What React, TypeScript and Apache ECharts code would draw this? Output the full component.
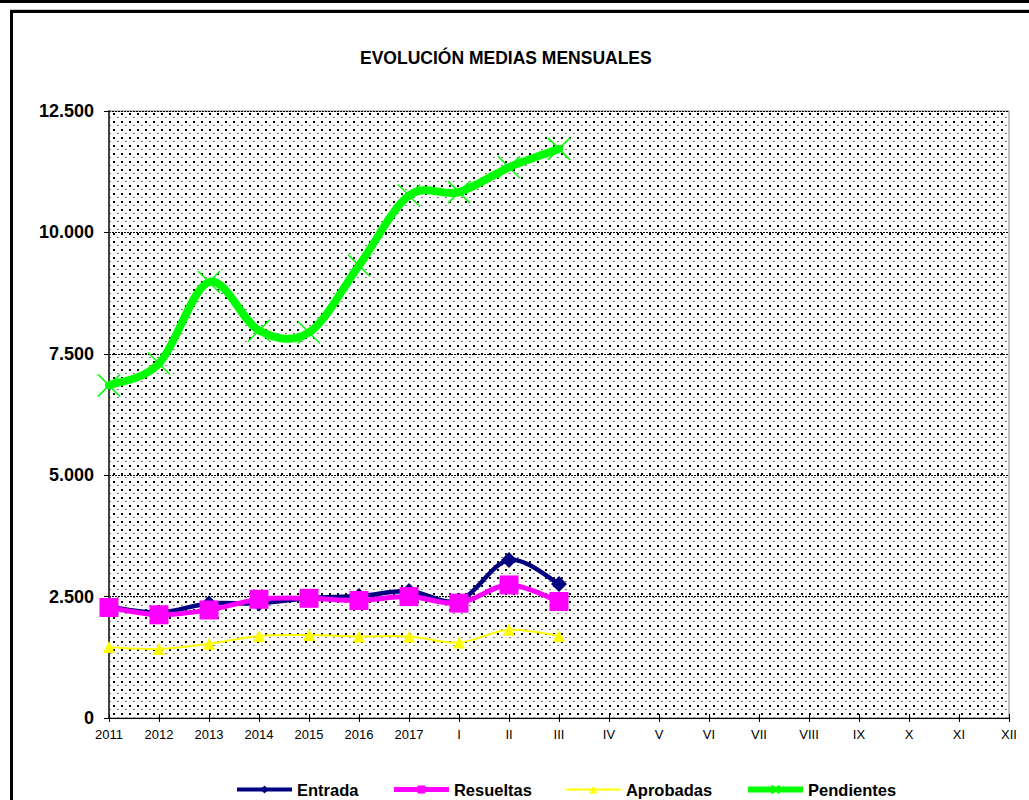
import React, { useEffect, useRef } from 'react';
import * as echarts from 'echarts';

const categories = ['2011', '2012', '2013', '2014', '2015', '2016', '2017', 'I', 'II', 'III', 'IV', 'V', 'VI', 'VII', 'VIII', 'IX', 'X', 'XI', 'XII'];
const entrada = [2290, 2170, 2360, 2360, 2470, 2510, 2615, 2420, 3255, 2760];
const resueltas = [2275, 2125, 2225, 2445, 2465, 2420, 2500, 2365, 2740, 2400];
const aprobadas = [1460, 1420, 1530, 1690, 1710, 1680, 1680, 1555, 1815, 1690];
const pendientes = [6850, 7300, 8980, 7980, 7940, 9320, 10760, 10830, 11340, 11720];
const yMin = 0;
const yMax = 12500;
const yInterval = 2500;

const FONT = '"Liberation Sans", Arial, sans-serif';

function fmt(v: number): string {
  return String(v).replace(/\B(?=(\d{3})+(?!\d))/g, '.');
}

function makePattern() {
  const c = document.createElement('canvas');
  c.width = 8;
  c.height = 8;
  const ctx = c.getContext('2d')!;
  ctx.fillStyle = '#ffffff';
  ctx.fillRect(0, 0, 8, 8);
  ctx.fillStyle = '#000000';
  ctx.fillRect(1, 1, 2, 2);
  ctx.fillStyle = '#777777';
  ctx.fillRect(5, 5, 2, 1);
  return { image: c.toDataURL(), repeat: 'repeat', imageWidth: 8, imageHeight: 8 };
}

// Excel-like smoothed curve (Catmull-Rom), positioned through the chart's scales
function curveSeries(name: string, values: number[], color: string, width: number, z: number) {
  return {
    name: name + ' curva',
    type: 'custom',
    z,
    silent: true,
    clip: false,
    data: [[0, values[0]]],
    renderItem: (_params: any, api: any) => {
      const pts = values.map((v, i) => api.coord([i, v]));
      const children: any[] = [];
      for (let i = 0; i < pts.length - 1; i++) {
        const p0 = pts[i - 1] || pts[i];
        const p1 = pts[i];
        const p2 = pts[i + 1];
        const p3 = pts[i + 2] || pts[i + 1];
        children.push({
          type: 'bezierCurve',
          shape: {
            x1: p1[0],
            y1: p1[1],
            cpx1: p1[0] + (p2[0] - p0[0]) / 6,
            cpy1: p1[1] + (p2[1] - p0[1]) / 6,
            cpx2: p2[0] - (p3[0] - p1[0]) / 6,
            cpy2: p2[1] - (p3[1] - p1[1]) / 6,
            x2: p2[0],
            y2: p2[1],
          },
          style: { stroke: color, lineWidth: width, fill: 'none', lineCap: 'round' },
        });
      }
      return { type: 'group', children };
    },
  };
}

function markerSeries(name: string, values: number[], symbol: string, size: number, color: string, z: number, extra: any = {}) {
  return {
    name,
    type: 'line',
    z,
    data: values,
    symbol,
    symbolSize: size,
    showAllSymbol: true,
    lineStyle: { width: 0, opacity: 0 },
    itemStyle: { color, ...extra },
  };
}

export default function App() {
  const ref = useRef<HTMLDivElement>(null);
  useEffect(() => {
    if (!ref.current) return;
    document.body.style.margin = '0';
    document.body.style.overflow = 'hidden';
    document.documentElement.style.overflow = 'hidden';
    const chart = echarts.init(ref.current, null, { renderer: 'svg' });
    const pattern = makePattern();
    const option: any = {
      animation: false,
      backgroundColor: '#ffffff',
      title: {
        text: 'EVOLUCIÓN MEDIAS MENSUALES',
        left: 360,
        top: 49,
        padding: 0,
        textStyle: { fontFamily: FONT, fontSize: 17.5, fontWeight: 'bold', color: '#000' },
      },
      legend: {
        left: 235,
        top: 781,
        padding: 0,
        itemWidth: 55,
        itemHeight: 10,
        itemGap: 33,
        textStyle: { fontFamily: FONT, fontSize: 16.5, fontWeight: 'bold', color: '#000' },
        data: [
          { name: 'Entrada', lineStyle: { color: '#000080', width: 4, opacity: 1 } },
          { name: 'Resueltas', lineStyle: { color: '#ff00ff', width: 5, opacity: 1 } },
          { name: 'Aprobadas', lineStyle: { color: '#ffff00', width: 2, opacity: 1 } },
          { name: 'Pendientes', lineStyle: { color: '#00ff00', width: 6, opacity: 1 } },
        ],
      },
      grid: {
        left: 109,
        right: 20,
        top: 111,
        bottom: 82,
        show: true,
        backgroundColor: pattern,
        borderColor: '#808080',
        borderWidth: 1,
      },
      xAxis: [
        {
          type: 'category',
          data: categories,
          boundaryGap: false,
          axisLine: { lineStyle: { color: '#000', width: 1 } },
          axisTick: { show: true, length: 4, lineStyle: { color: '#000' } },
          axisLabel: { interval: 0, margin: 10, fontFamily: FONT, fontSize: 13, color: '#000' },
          splitLine: { show: false },
        },
        {
          type: 'category',
          data: categories,
          boundaryGap: false,
          position: 'bottom',
          axisLine: { show: false },
          axisTick: { show: true, inside: true, length: 4, lineStyle: { color: '#000' } },
          axisLabel: { show: false },
          splitLine: { show: false },
        },
      ],
      yAxis: {
        type: 'value',
        min: yMin,
        max: yMax,
        interval: yInterval,
        axisLine: { show: true, lineStyle: { color: '#404040', width: 2 } },
        axisTick: { show: true, length: 5, lineStyle: { color: '#000' } },
        axisLabel: {
          margin: 15,
          fontFamily: FONT,
          fontSize: 18,
          fontWeight: 'bold',
          color: '#000',
          formatter: (v: number) => fmt(v),
        },
        splitLine: { show: true, lineStyle: { color: '#000', width: 1, type: [2, 1] } },
      },
      graphic: [
        { type: 'rect', shape: { x: 0, y: 0, width: 1029, height: 3 }, style: { fill: '#000' }, silent: true },
        { type: 'line', shape: { x1: 10, y1: 9.5, x2: 1029, y2: 9.5 }, style: { stroke: '#c8c8c8', lineWidth: 1 }, silent: true },
        { type: 'rect', shape: { x: 10, y: 10, width: 1019, height: 3 }, style: { fill: '#000' }, silent: true },
        { type: 'rect', shape: { x: 10, y: 10, width: 3, height: 790 }, style: { fill: '#000' }, silent: true },
      ],
      series: [
        curveSeries('Entrada', entrada, '#000080', 4.5, 2),
        markerSeries('Entrada', entrada, 'diamond', 16, '#000080', 3),
        curveSeries('Resueltas', resueltas, '#ff00ff', 5, 4),
        markerSeries('Resueltas', resueltas, 'rect', 19, '#ff00ff', 5),
        curveSeries('Aprobadas', aprobadas, '#ffff00', 2, 6),
        markerSeries('Aprobadas', aprobadas, 'triangle', 12, '#ffff00', 7),
        curveSeries('Pendientes', pendientes, '#00ff00', 8, 8),
        markerSeries('Pendientes', pendientes, 'path://M0 0L20 20M20 0L0 20', 22, '#00ff00', 9, {
          borderColor: '#00ff00',
          borderWidth: 1.5,
        }),
      ],
    };
    chart.setOption(option);
    return () => chart.dispose();
  }, []);
  return <div ref={ref} style={{ width: 1029, height: 800, overflow: 'hidden' }} />;
}
